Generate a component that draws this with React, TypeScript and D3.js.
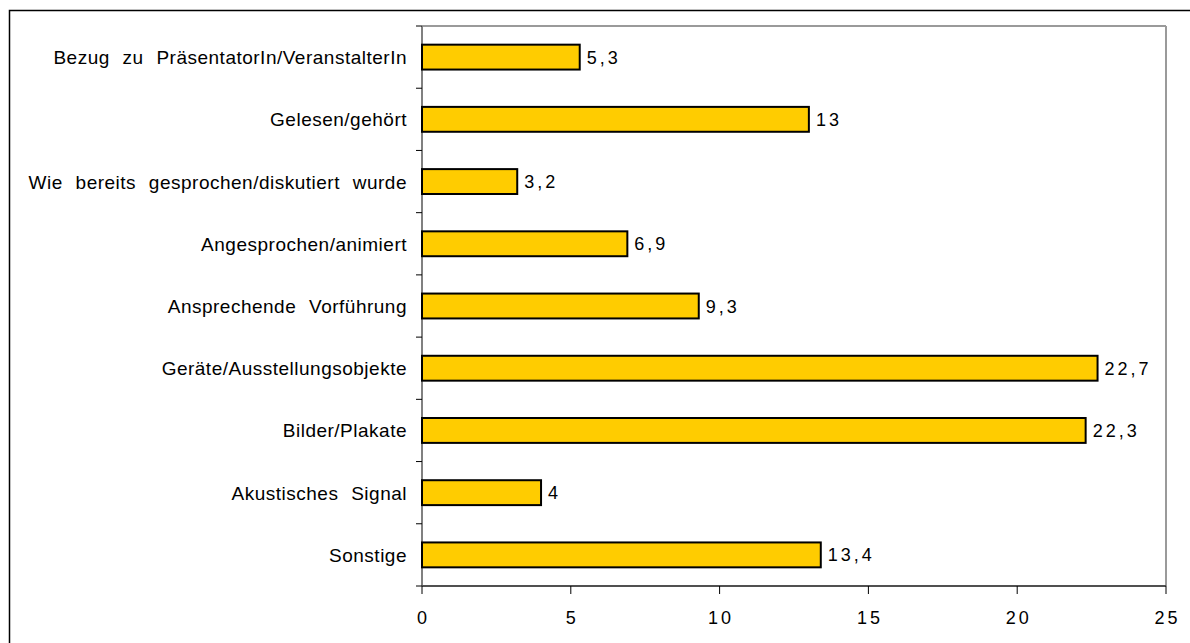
import React from "react";
import * as d3 from "d3";

const categories = [
  "Bezug zu PräsentatorIn/VeranstalterIn",
  "Gelesen/gehört",
  "Wie bereits gesprochen/diskutiert wurde",
  "Angesprochen/animiert",
  "Ansprechende Vorführung",
  "Geräte/Ausstellungsobjekte",
  "Bilder/Plakate",
  "Akustisches Signal",
  "Sonstige",
];
const values = [5.3, 13, 3.2, 6.9, 9.3, 22.7, 22.3, 4, 13.4];
const valueLabels = ["5,3", "13", "3,2", "6,9", "9,3", "22,7", "22,3", "4", "13,4"];
const xTicks = [0, 5, 10, 15, 20, 25];

export default function App() {
  const W = 1190, H = 643;
  const left = 422, right = 1166, top = 26, bottom = 586;
  const x = d3.scaleLinear().domain([0, 25]).range([left, right]);
  const y = d3.scaleBand<string>().domain(categories).range([top, bottom]).paddingInner(0.6).paddingOuter(0.3);
  const yb = d3.scaleBand<string>().domain(categories).range([top, bottom]);
  const font = "'Liberation Sans', Arial, sans-serif";
  return (
    <svg width={W} height={H} style={{ position: "absolute", left: 0, top: 0, background: "#fff" }} fontFamily={font}>
      <rect x={9.5} y={10.5} width={1200} height={700} fill="none" stroke="#000" strokeWidth={1.5} />
      {/* plot frame */}
      <line x1={left} x2={right} y1={top} y2={top} stroke="#9a9a9a" strokeWidth={2} />
      <line x1={right} x2={right} y1={top} y2={bottom} stroke="#9a9a9a" strokeWidth={2} />
      <line x1={left} x2={left} y1={top} y2={bottom} stroke="#808080" strokeWidth={2} />
      <line x1={left} x2={right} y1={bottom} y2={bottom} stroke="#505050" strokeWidth={2} />
      {/* y ticks */}
      {categories.map((c) => (
        <line key={"yt" + c} x1={416} x2={left} y1={yb(c)!} y2={yb(c)!} stroke="#000" strokeWidth={1} />
      ))}
      <line x1={416} x2={left} y1={bottom} y2={bottom} stroke="#000" strokeWidth={1} />
      {/* x ticks */}
      {xTicks.map((t) => (
        <g key={"xt" + t}>
          <line x1={x(t)} x2={x(t)} y1={bottom} y2={bottom + 8} stroke="#000" strokeWidth={1} />
          <text x={x(t) + 1.5} y={624} textAnchor="middle" fontSize={18} letterSpacing={3} fill="#000">{t}</text>
        </g>
      ))}
      {/* bars */}
      {categories.map((c, i) => (
        <g key={"b" + c}>
          <rect x={x(0)} y={y(c)!} width={x(values[i]) - x(0)} height={y.bandwidth()} fill="#FFCC00" stroke="#000" strokeWidth={2} />
          <text x={x(values[i]) + 7} y={y(c)! + y.bandwidth() / 2 + 6.5} fontSize={18} letterSpacing={3} fill="#000">{valueLabels[i]}</text>
          <text x={407} y={y(c)! + y.bandwidth() / 2 + 7} textAnchor="end" fontSize={19} letterSpacing={0.5} wordSpacing={7} fill="#000">{c}</text>
        </g>
      ))}
    </svg>
  );
}
